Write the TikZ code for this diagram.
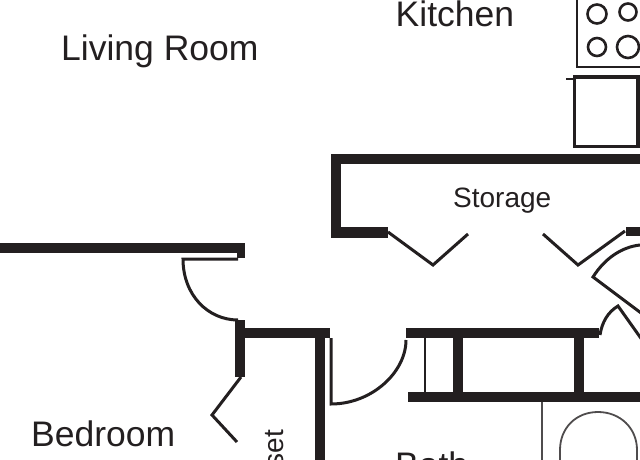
\documentclass[tikz,border=0pt]{standalone}
\usepackage{fontspec}
\setmainfont{Liberation Sans}
\definecolor{ink}{HTML}{231F20}
\tikzset{
  wall/.style={draw=ink, line width=10.5pt},
  thinwall/.style={draw=ink, line width=2.6pt},
  doorleaf/.style={draw=ink, line width=3pt, line join=miter},
  roomlabel/.style={text=ink, inner sep=0pt, font=\fontsize{35.5}{40}\selectfont},
  smalllabel/.style={text=ink, inner sep=0pt, font=\fontsize{28}{32}\selectfont}
}
\begin{document}
\begin{tikzpicture}[x=1pt, y=-1pt]

\useasboundingbox (0,0) rectangle (640,460);
\clip (0,0) rectangle (640,460);

\node[roomlabel, anchor=base west] (livingroom) at (61,60) {Living Room};
\node[roomlabel, anchor=base west] (kitchen) at (395.5,27) {Kitchen};
\node[smalllabel, anchor=base west] (storage) at (453,207) {Storage};
\node[roomlabel, anchor=base west] (bedroom) at (31,446) {Bedroom};
\node[roomlabel, anchor=base west] (bath) at (395,477) {Bath};
\node[smalllabel, anchor=base east, rotate=90] (closet) at (283,430) {set};

% stove and counter
\draw[thinwall] (577,-5) -- (577,67) -- (645,67);
\draw[thinwall] (597,14) circle[radius=9.5];
\draw[thinwall] (628,12) circle[radius=8.5];
\draw[thinwall] (597,47) circle[radius=9];
\draw[thinwall] (628,47) circle[radius=11];
\draw[draw=ink, line width=3.4pt] (574.5,77) rectangle (638,146.5);
\draw[thinwall] (566,79) -- (574,79);

% storage walls
\draw[wall, line join=miter] (645,159) -- (336,159) -- (336,232.5) -- (388,232.5);
\draw[doorleaf] (388,232) -- (433,265) -- (468,234);
\draw[doorleaf] (543,234) -- (578,265) -- (625,231);
\draw[draw=ink, line width=9pt] (626,231.5) -- (645,231.5);

% right doors
\draw[doorleaf] (640,245) .. controls (622,247) and (605,258) .. (593,277) -- (645,316);
\draw[doorleaf] (600,335) .. controls (602,322) and (608,312) .. (618,306) -- (645,344);

% bath walls
\draw[wall] (406,333) -- (599,333);
\draw[wall] (408,397) -- (645,397);
\draw[wall] (458,333) -- (458,397);
\draw[wall] (579,333) -- (579,397);
\draw[thinwall] (425,338) -- (425,392);
\draw[doorleaf] (331,338) -- (331,404) .. controls (372,404) and (406,372) .. (406,340);

% living room and closet walls
\draw[wall] (0,248) -- (245,248);
\draw[draw=ink, line width=8pt] (241,248) -- (241,258);
\draw[doorleaf] (238,259) -- (183,259) .. controls (183,295) and (208,320) .. (238,320);
\draw[wall] (240,320) -- (240,377);
\draw[wall] (240,333) -- (330,333);
\draw[wall] (320,333) -- (320,465);
\draw[doorleaf] (241,377) -- (212,415) -- (237,442);

% tub
\draw[draw=ink!80, line width=1.8pt] (542,402) -- (542,465);
\draw[draw=ink!80, line width=1.8pt] (560,465) -- (560,450) .. controls (560,428) and (576,412) .. (598,412) .. controls (620,412) and (637,428) .. (637,450) -- (637,465);

\end{tikzpicture}
\end{document}
